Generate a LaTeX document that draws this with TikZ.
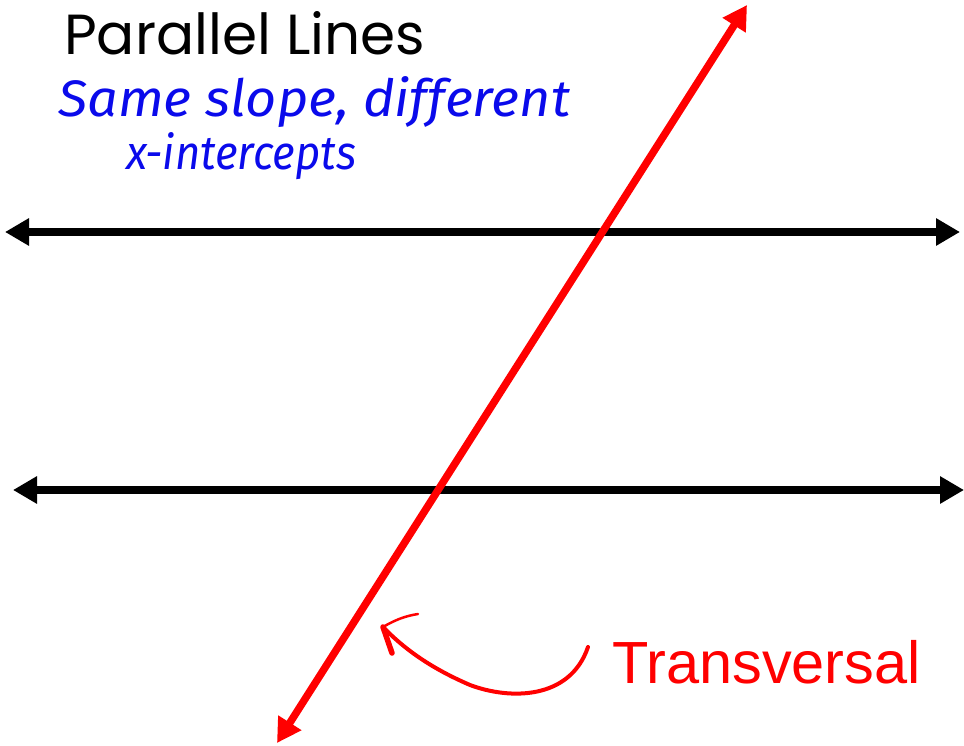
\documentclass[tikz,border=0pt]{standalone}
\usepackage{fontspec}
\usepackage{graphicx}
\setmainfont{Poppins}
\newfontfamily\arialf{Liberation Sans}
\newfontfamily\handf{Fira Sans}
\usetikzlibrary{arrows.meta}
\definecolor{hand}{RGB}{10,10,235}
\definecolor{tred}{RGB}{255,0,0}
\tikzset{
  parline/.style={line width=8.5pt,black,{Triangle[length=24pt,width=26pt]}-{Triangle[length=24pt,width=26pt]}},
  transline/.style={line width=7.5pt,tred,{Triangle[length=24pt,width=26pt]}-{Triangle[length=24pt,width=26pt]}},
  pointer/.style={line width=4pt,tred,line cap=round,line join=round},
  handtext/.style={anchor=base west,inner sep=0pt,text=hand,font=\handf\itshape\fontsize{50}{50}\selectfont},
}
\begin{document}
\begin{tikzpicture}[x=1pt,y=-1pt]
\useasboundingbox (0,0) rectangle (964,746);
\node[anchor=base west,inner sep=0pt,font=\fontsize{60}{60}\selectfont] (title) at (64,55) {\resizebox{361pt}{!}{Parallel Lines}};
\node[handtext] (note1) at (58,117) {\resizebox{512pt}{40pt}{Same slope, different}};
\node[handtext] (note2) at (126,170) {\resizebox{230pt}{37pt}{x-intercepts}};
\node[anchor=base west,inner sep=0pt,text=tred,font=\arialf\fontsize{59.5}{60}\selectfont] (trans) at (612,683) {Transversal};
\coordinate (l1a) at (5,232);
\coordinate (l1b) at (960,232);
\coordinate (l2a) at (13,490);
\coordinate (l2b) at (964,490);
\coordinate (ta) at (277,743);
\coordinate (tb) at (747,5);
\draw[parline] (l1a) -- (l1b);
\draw[parline] (l2a) -- (l2b);
\draw[transline] (ta) -- (tb);
\coordinate (ps) at (588,647);
\coordinate (pt) at (383,627);
\draw[pointer] (ps) .. controls (570,700) and (510,700) .. (470,685) .. controls (440,672) and (410,655) .. (pt);
\draw[pointer,line width=5.5pt] (pt) -- (392,653);
\draw[pointer,line width=2.5pt] (pt) .. controls (395,620) and (405,616) .. (418,614);
\end{tikzpicture}
\end{document}
